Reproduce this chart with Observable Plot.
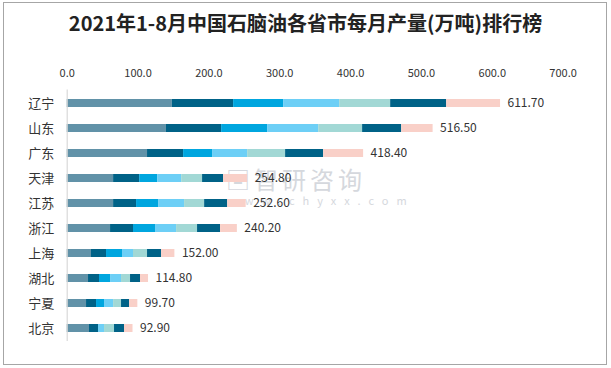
<!DOCTYPE html>
<html>
<head>
<meta charset="utf-8">
<script src="https://cdn.jsdelivr.net/npm/d3@7"></script>
<script src="https://cdn.jsdelivr.net/npm/@observablehq/plot@0.6"></script>
<style>
  html, body { margin: 0; padding: 0; background: #fff; }
  #wrap { position: relative; width: 611px; height: 368px; overflow: hidden; font-family: "Noto Sans CJK SC", "Noto Sans", sans-serif; }
  #frame { position: absolute; left: 3px; top: 2px; width: 602px; height: 361px; border: 1.5px solid #a6a6a6; }
  #title { position: absolute; left: 0; top: 8px; width: 611px; text-align: center; font-size: 20px; font-weight: bold; color: #222; }
  #wm { position: absolute; left: 226px; top: 161px; color: #c4c8cf; opacity: 0.7; }
  #wm .big { font-size: 24px; letter-spacing: 4px; }
  #wm .small { font-size: 11px; letter-spacing: 8px; margin-top: -4px; margin-left: 2px; }
  #plot { position: absolute; left: 0; top: 0; }
</style>
</head>
<body>
<div id="wrap">
  <div id="frame"></div>
  <div id="wm"><div class="big">▣智研咨询</div><div class="small">www.chyxx.com</div></div>
  <div id="title">2021年1-8月中国石脑油各省市每月产量(万吨)排行榜</div>
  <div id="plot"></div>
</div>
<script>
const provinces = ["辽宁", "山东", "广东", "天津", "江苏", "浙江", "上海", "湖北", "宁夏", "北京"];
const months = ["1-2月", "3月", "4月", "5月", "6月", "7月", "8月"];
const m1_2 = [148.3, 140.1, 113.4, 65.5, 65.5, 61.2, 34.3, 30.1, 27.3, 31.5];
const m3   = [86.6, 77.9, 50.9, 36.8, 32.4, 32.4, 21.2, 15.5, 14.1, 12.7];
const m4   = [70.6, 64.9, 40.9, 25.4, 31.1, 31.1, 22.6, 15.6, 11.3, 0];
const m5   = [79.1, 72.1, 49.5, 33.9, 36.7, 29.7, 15.5, 15.5, 12.8, 8.5];
const m6   = [72.0, 62.0, 53.6, 29.5, 28.3, 29.6, 19.8, 12.7, 11.2, 14.1];
const m7   = [79.1, 55.2, 53.7, 29.7, 32.6, 32.5, 19.8, 14.1, 11.3, 14.1];
const m8   = [76.0, 44.3, 56.4, 34.0, 26.0, 23.7, 18.8, 11.3, 11.7, 12.0];
const totals = [611.7, 516.5, 418.4, 254.8, 252.6, 240.2, 152.0, 114.8, 99.7, 92.9];
const xTicks = [0, 100, 200, 300, 400, 500, 600, 700];
const colors = ["#6192a8", "#006287", "#00a6df", "#6dcff6", "#a2d8d5", "#006287", "#f9d0c8"];

const series = [m1_2, m3, m4, m5, m6, m7, m8];
const rows = [];
series.forEach((vals, mi) => {
  provinces.forEach((p, pi) => rows.push({province: p, month: months[mi], value: vals[pi]}));
});
const totalRows = provinces.map((p, i) => ({province: p, total: totals[i]}));

const chart = Plot.plot({
  width: 611,
  height: 368,
  marginLeft: 66.7,
  marginRight: 48.4,
  marginTop: 89.5,
  marginBottom: 27,
  style: {fontFamily: '"Noto Sans CJK SC", "Noto Sans", sans-serif', color: "#333", background: "transparent"},
  x: {domain: [0, 700], axis: null},
  y: {domain: provinces, paddingInner: 0.68, paddingOuter: 0.34, axis: null},
  color: {domain: months, range: colors},
  marks: [
    Plot.axisX(xTicks, {anchor: "top", label: null, tickSize: 0, tickPadding: 13, tickFormat: d3.format(".1f"), fontSize: 11, fill: "#333"}),
    Plot.axisY({anchor: "left", label: null, tickSize: 0, tickPadding: 13, fontSize: 13, fill: "#333"}),
    Plot.barX(rows, Plot.stackX({x: "value", y: "province", fill: "month", order: null})),
    Plot.ruleX([0], {stroke: "#d9d9d9", strokeWidth: 1.2}),
    Plot.text(totalRows, {x: "total", y: "province", text: d => d.total.toFixed(2), textAnchor: "start", dx: 7, fontSize: 12, fill: "#333"})
  ]
});
document.getElementById("plot").appendChild(chart);
</script>
</body>
</html>
